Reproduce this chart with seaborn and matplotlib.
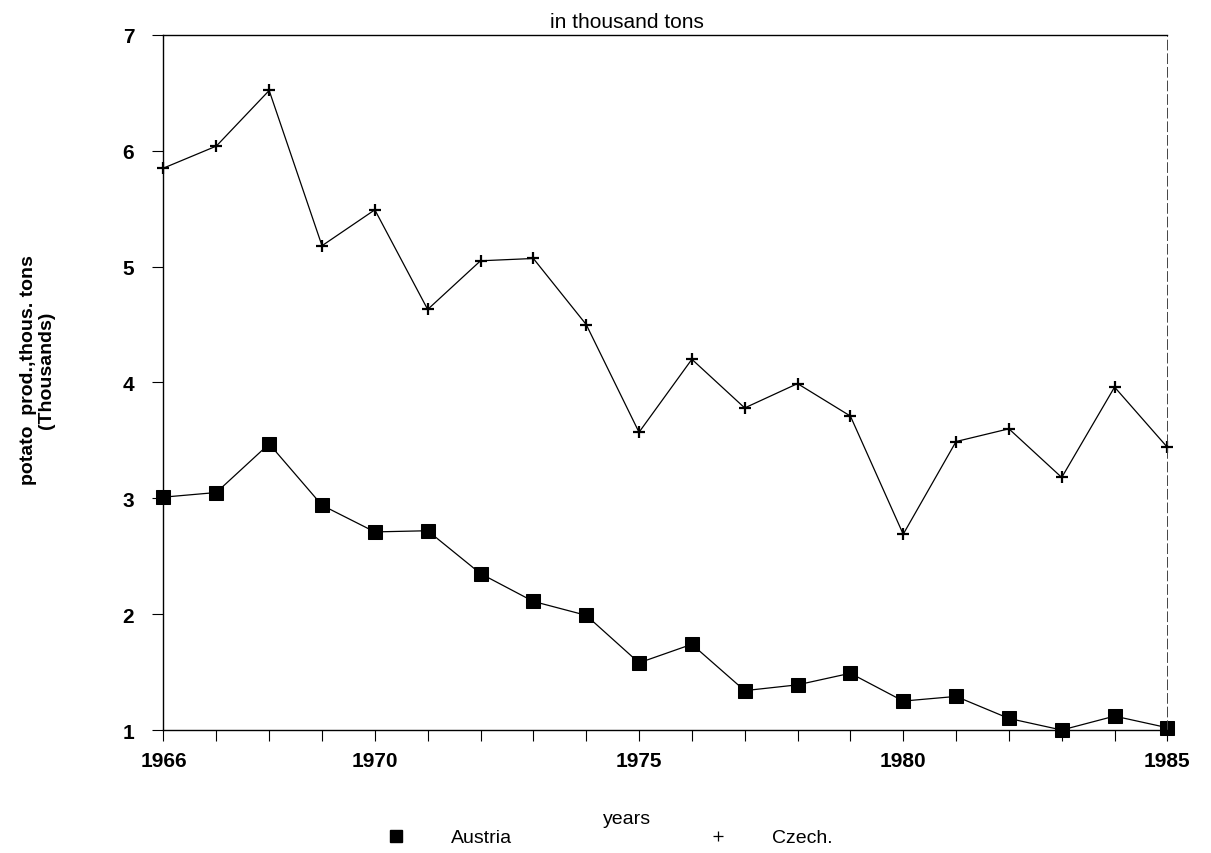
import pandas as pd
import numpy as np
import matplotlib.pyplot as plt
import seaborn as sns
from matplotlib.lines import Line2D

years = list(range(1966, 1986))
austria = [3.01, 3.05, 3.47, 2.94, 2.71, 2.72, 2.35, 2.11, 1.99, 1.58,
           1.74, 1.34, 1.39, 1.49, 1.25, 1.29, 1.10, 1.00, 1.12, 1.02]
czech = [5.85, 6.04, 6.52, 5.18, 5.49, 4.63, 5.05, 5.07, 4.50, 3.57,
         4.20, 3.78, 3.99, 3.71, 2.69, 3.49, 3.60, 3.18, 3.96, 3.44]
countries = ["Austria", "Czech."]
year_labels = ["1966", "1970", "1975", "1980", "1985"]

df = pd.DataFrame({
    "year": years * 2,
    "value": austria + czech,
    "country": ["Austria"] * len(years) + ["Czech."] * len(years),
})

sns.set_style("ticks")
plt.rcParams["font.family"] = ["Liberation Sans", "DejaVu Sans"]
plt.rcParams["text.color"] = "black"
plt.rcParams["axes.labelcolor"] = "black"
plt.rcParams["xtick.color"] = "black"
plt.rcParams["ytick.color"] = "black"

fig = plt.figure(figsize=(12.11, 8.54), dpi=100)
ax = fig.add_axes([0.135, 0.144, 0.829, 0.814])

sns.lineplot(data=df[df["country"] == "Austria"], x="year", y="value",
             color="black", marker="s", linewidth=0.9, markersize=9.5,
             markeredgecolor="black", legend=False, ax=ax, clip_on=False)
sns.lineplot(data=df[df["country"] == "Czech."], x="year", y="value",
             color="black", marker="+", linewidth=0.9, markersize=9,
             markeredgewidth=1.6, markeredgecolor="black", legend=False,
             ax=ax, clip_on=False)

ax.set_xlim(1966, 1985)
ax.set_ylim(1, 7)
ax.set_xticks(years)
ax.set_xticklabels([str(y) if str(y) in year_labels else "" for y in years])
ax.set_yticks([1, 2, 3, 4, 5, 6, 7])
ax.tick_params(axis="x", direction="out", length=8, width=0.8,
               labelsize=15, pad=7)
ax.tick_params(axis="y", direction="out", length=8, width=0.8,
               labelsize=15, pad=13)
for lab in ax.get_xticklabels() + ax.get_yticklabels():
    lab.set_fontweight("bold")

for side in ["left", "top", "bottom"]:
    ax.spines[side].set_visible(True)
    ax.spines[side].set_color("black")
    ax.spines[side].set_linewidth(1.0)
ax.spines["right"].set_visible(True)
ax.spines["right"].set_color("#444444")
ax.spines["right"].set_linewidth(0.7)
ax.spines["right"].set_linestyle((0, (10, 4)))

ax.set_xlabel("years", fontsize=14)
ax.xaxis.set_label_coords(0.462, -0.115)
ax.set_ylabel("potato  prod.,thous. tons\n(Thousands)", fontsize=14,
              fontweight="bold", linespacing=1.05)
ax.yaxis.set_label_coords(-0.108, 0.519)
ax.set_title("in thousand tons", fontsize=15, x=0.462, pad=6)

handles = [Line2D([], [], color="black", marker="s", linestyle="none", markersize=9),
           Line2D([], [], color="black", marker="+", linestyle="none", markersize=7,
                  markeredgewidth=0.9)]
fig.legend(handles, countries, loc="center left", bbox_to_anchor=(0.311, 0.018),
           ncol=2, frameon=False, fontsize=14, handlelength=2, handletextpad=1.8,
           columnspacing=9.6, borderpad=0, borderaxespad=0)

fig.savefig("out.png", dpi=100)
